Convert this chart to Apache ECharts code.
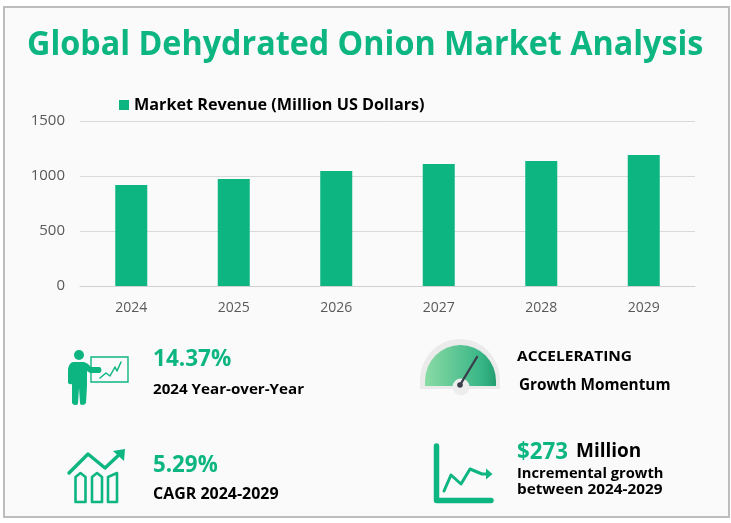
<!DOCTYPE html>
<html>
<head>
<meta charset="utf-8">
<script src="https://cdn.jsdelivr.net/npm/echarts@6/dist/echarts.min.js"></script>
<style>
html,body{margin:0;padding:0;background:#fff;}
#box1{width:731px;height:523px;}
</style>
</head>
<body>
<div id="box1"></div>
<script>
const aYears = ['2024', '2025', '2026', '2027', '2028', '2029'];
const aRevenue = [918, 973, 1045, 1110, 1136, 1191];
const aYTicks = [0, 500, 1000, 1500];
const sSeriesName = 'Market Revenue (Million US Dollars)';

const sGreen = '#0DB581';
const sFont = '"Open Sans"';

const myChart = echarts.init(document.getElementById('box1'));

function txt(x, y, text, size, fill, scaleX){
    return {
        type: 'text', x, y, scaleX: scaleX || 1,
        style: { text, fill, font: `700 ${size}px ${sFont}`, textVerticalAlign: 'middle' },
    };
}
function stroke(shape, type, lineWidth){
    return { type, shape, style: { stroke: sGreen, fill: 'none', lineWidth, lineCap: 'round', lineJoin: 'round' } };
}
function poly(points, lineWidth){
    return stroke({ points, smooth: 0 }, 'polyline', lineWidth);
}
// graphic 组件没有 path 类型，注册一下
let iShape = 0;
function pathEl(sPath, oStyle){
    const sName = 'icon' + (iShape++);
    echarts.graphic.registerShape(sName, echarts.graphic.extendPath(sPath, {}));
    return { type: sName, style: { fill: sGreen, ...oStyle } };
}

const aGraphic = [
    // frame
    { type: 'rect', shape: { x: 4, y: 7, width: 725, height: 510 }, style: { fill: '#FAFAFA', stroke: '#BDBDBD', lineWidth: 2 }, z: -10 },
    txt(27, 45, 'Global Dehydrated Onion Market Analysis', 34, sGreen, 0.95),

    // presenter icon
    { type: 'circle', shape: { cx: 79, cy: 355, r: 5 }, style: { fill: sGreen } },
    pathEl('M73 362 L84 362 Q88 363 91 367 L100 367 Q103 370 100 373 L90 373 L87 371 L87 386 L86 403 Q85 405 82 405 Q80 405 80 403 L79 388 L78 403 Q78 405 75 405 Q73 405 72 403 L72 384 Q70 385 68 383 L68 369 Q69 363 73 362 Z'),
    { type: 'rect', shape: { x: 91, y: 357, width: 37, height: 25 }, style: { fill: 'none', stroke: sGreen, lineWidth: 1.4 } },
    poly([[100, 378], [106, 373], [110, 376], [115, 367], [117, 371], [121, 362]], 1.5),

    // bars + arrow icon
    poly([[69, 473], [88, 454], [105, 468], [122, 452]], 3.4),
    pathEl('M113 451 L125 449 L124 461 Z'),
    poly([[75.5, 502], [75.5, 477], [80.5, 473], [85.5, 477], [85.5, 502], [75.5, 502]], 2.6),
    poly([[92, 502], [92, 477], [97, 473], [102, 477], [102, 502], [92, 502]], 2.6),
    poly([[108, 502], [108, 477], [117, 473], [117, 502], [108, 502]], 2.6),

    // gauge icon
    pathEl('M420 389 L420 380 A40 41 0 0 1 500 380 L500 389 Z', { fill: '#EBEBEB' }),
    pathEl('M425 386 L425 381 A35.5 36 0 0 1 496 381 L496 386 Z', {
        fill: new echarts.graphic.LinearGradient(0, 0, 1, 0, [{ offset: 0, color: '#8ADBA4' }, { offset: 0.8, color: '#38B587' }, { offset: 1, color: '#239E72' }], false),
    }),
    { type: 'circle', shape: { cx: 461, cy: 387, r: 8.5 }, style: { fill: '#EDEDED' } },
    { type: 'line', shape: { x1: 460, y1: 385, x2: 477, y2: 357 }, style: { stroke: '#3A3F4B', lineWidth: 2.4, lineCap: 'round' } },
    { type: 'circle', shape: { cx: 460, cy: 385, r: 2.8 }, style: { fill: '#3A3F4B' } },

    // line chart icon
    poly([[436.5, 446], [436.5, 500.5], [491, 500.5]], 5.5),
    poly([[444, 491], [451, 475], [461, 484], [470, 469], [482, 474], [489, 474]], 3),
    pathEl('M486 468.5 L492.5 474 L486 479.5 Z'),

    // kpi text
    txt(153, 359, '14.37%', 23, sGreen, 0.98),
    txt(153, 390, '2024 Year-over-Year', 15, '#000', 1.01),
    txt(153, 465, '5.29%', 23, sGreen, 0.97),
    txt(153, 495, 'CAGR 2024-2029', 15.5, '#000', 1.03),
    txt(517, 357, 'ACCELERATING', 15, '#000', 1.03),
    txt(519, 386, 'Growth Momentum', 15.5, '#000', 0.99),
    txt(517, 452, '$273', 23, sGreen, 0.97),
    txt(576, 452, 'Million', 19, '#000', 1),
    txt(517, 474, 'Incremental growth', 15, '#000', 0.98),
    txt(517, 490, 'between 2024-2029', 15, '#000', 1.02),
];

const option = {
    backgroundColor: '#fff',
    animation: false,
    textStyle: { fontFamily: sFont },
    grid: { left: 80, right: 36, top: 121, bottom: 237 },
    legend: {
        left: 114, top: 92,
        itemWidth: 10, itemHeight: 10, itemGap: 3,
        icon: 'rect',
        textStyle: { fontSize: 16.2, fontWeight: 700, color: '#000', fontFamily: sFont },
        data: [sSeriesName],
    },
    xAxis: {
        type: 'category',
        data: aYears,
        axisLine: { lineStyle: { color: '#D0D0D0' } },
        axisTick: { show: false },
        axisLabel: { color: '#595959', fontSize: 14, margin: 15 },
    },
    yAxis: {
        type: 'value',
        min: aYTicks[0],
        max: aYTicks[aYTicks.length - 1],
        interval: aYTicks[1] - aYTicks[0],
        axisLine: { show: false },
        axisTick: { show: false },
        splitLine: { lineStyle: { color: '#D9D9D9' } },
        axisLabel: { color: '#595959', fontSize: 15, margin: 15, padding: [2, 0, 0, 0], formatter: v => String(v) },
    },
    series: [{
        name: sSeriesName,
        type: 'bar',
        data: aRevenue,
        barWidth: 32,
        itemStyle: { color: '#0DB581' },
    }],
    graphic: { elements: aGraphic },
};
myChart.setOption(option);
</script>
</body>
</html>
